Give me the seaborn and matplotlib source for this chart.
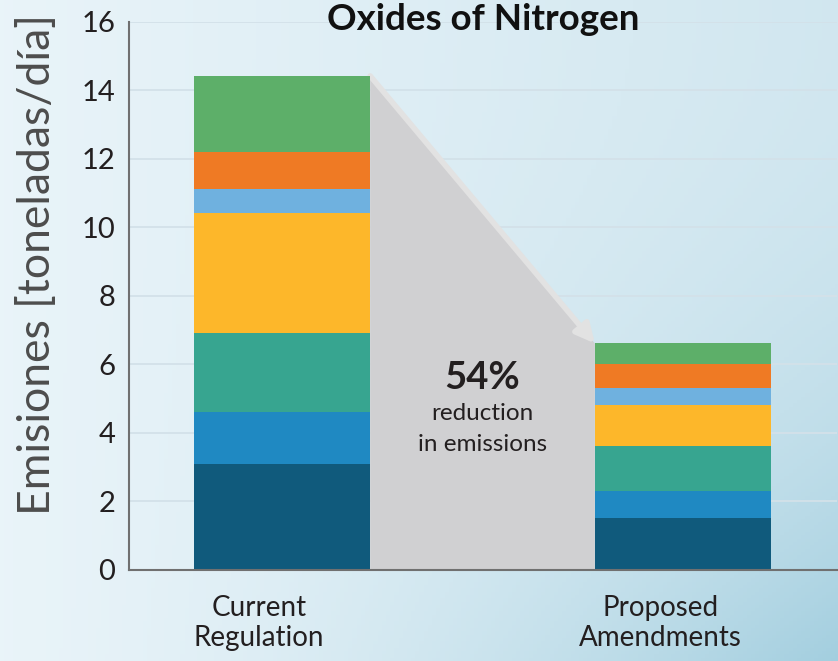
import numpy as np
import pandas as pd
import matplotlib.pyplot as plt
import seaborn as sns
from matplotlib.transforms import ScaledTranslation

# data (tons/day), stacked bottom -> top
categories = ['Current\nRegulation', 'Proposed\nAmendments']
seg_dark = [3.10, 1.50]
seg_blue = [1.50, 0.79]
seg_teal = [2.32, 1.31]
seg_yellow = [3.50, 1.20]
seg_lightblue = [0.70, 0.50]
seg_orange = [1.09, 0.70]
seg_green = [2.21, 0.61]
reduction_label = '54%'

segments = [seg_dark, seg_blue, seg_teal, seg_yellow, seg_lightblue, seg_orange, seg_green]
colors = ['#105a7c', '#1f89c2', '#37a590', '#fdb72a', '#6fb1df', '#ef7a24', '#5daf69']

sns.set_style('white')
plt.rcParams['font.family'] = ['Lato', 'DejaVu Sans']

fig = plt.figure(figsize=(8.38, 6.61), dpi=100)

# background gradient
bg = fig.add_axes([0, 0, 1, 1], zorder=-10)
xx, yy = np.meshgrid(np.linspace(0, 1, 200), np.linspace(0, 1, 200))
left = np.array([0.915, 0.957, 0.977])
right = np.array([0.82, 0.905, 0.94])
deep = np.array([0.64, 0.81, 0.875])
img = left * (1 - xx[..., None]) + right * xx[..., None]
w = (xx * yy)[..., None] ** 2.2
img = img * (1 - w) + deep * w
bg.imshow(img, aspect='auto', extent=[0, 1, 0, 1], origin='upper')
bg.axis('off')

ax = fig.add_axes([0.154, 0.138, 0.845, 0.829])
ax.set_facecolor('none')

bar_w = 0.44
cum = np.cumsum(np.array(segments), axis=0)
df = pd.DataFrame({'cat': categories})
# draw tallest cumulative first so lower segments sit on top
for k in range(len(segments) - 1, -1, -1):
    df['val'] = cum[k]
    sns.barplot(data=df, x='cat', y='val', color=colors[k], saturation=1,
                width=bar_w, ax=ax, zorder=3, edgecolor='none')

totals = cum[-1]
x0 = 0 + bar_w / 2
x1 = 1 - bar_w / 2
ax.fill([x0, x1, x1, x0], [totals[0], totals[1], 0, 0], color='#d0d0d2', zorder=2, lw=0)
ax.annotate('', xy=(x1, totals[1]), xytext=(x0, totals[0]),
            arrowprops=dict(arrowstyle='-|>', lw=4, mutation_scale=28,
                            color='#e2e2e2', shrinkA=0, shrinkB=0), zorder=2.5)

mid = (x0 + x1) / 2
ax.text(mid, 5.6, reduction_label, ha='center', va='center', fontsize=27.5,
        fontweight='bold', color='#231f20', zorder=4)
ax.text(mid, 4.55, 'reduction', ha='center', va='center', fontsize=17.5,
        color='#231f20', zorder=4)
ax.text(mid, 3.67, 'in emissions', ha='center', va='center', fontsize=17.5,
        color='#231f20', zorder=4)

ax.set_ylim(0, 16)
ax.set_xlim(-0.381, 1.384)
ax.set_yticks(range(0, 17, 2))
ax.yaxis.grid(True, color='#d3e1e9', lw=1.3)
ax.set_axisbelow(True)
for s in ['top', 'right']:
    ax.spines[s].set_visible(False)
for s in ['left', 'bottom']:
    ax.spines[s].set_color('#707070')
    ax.spines[s].set_linewidth(1.5)
    ax.spines[s].set_zorder(5)

ax.tick_params(axis='y', length=0, pad=10, labelsize=21, labelcolor='#231f20')
ax.tick_params(axis='x', length=0, pad=18, labelsize=20, labelcolor='#231f20')
ax.set_xlabel('')
ax.set_ylabel('Emisiones [toneladas/día]', fontsize=32, color='#4d4d4d')
ax.yaxis.set_label_coords(-0.10, 0.557)
for lab in ax.get_xticklabels():
    lab.set_linespacing(1.2)
    lab.set_transform(lab.get_transform() + ScaledTranslation(-0.23, 0, fig.dpi_scale_trans))

ax.text(0.5, 1.005, 'Oxides of Nitrogen', transform=ax.transAxes, ha='center',
        va='center', fontsize=26.5, fontweight='bold', color='#111111')

fig.savefig('out.png', dpi=100)
